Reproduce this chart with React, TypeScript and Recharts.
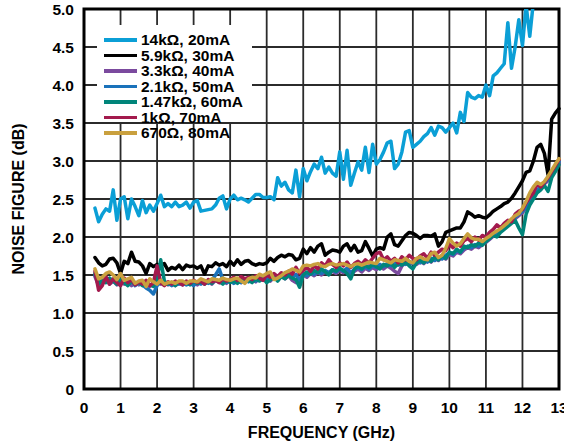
import { LineChart, Line, XAxis, YAxis, CartesianGrid, ReferenceArea } from 'recharts'

const FONT = '"Liberation Sans", Arial, Helvetica, sans-serif'

// frequency grid, GHz (0.3 .. 13.0 in 0.1 steps)
const FREQ = Array.from({ length: 128 }, (_, i) => Math.round((0.3 + i * 0.1) * 10) / 10)
const X_TICKS = [0, 1, 2, 3, 4, 5, 6, 7, 8, 9, 10, 11, 12, 13]
const Y_TICKS = [0, 0.5, 1, 1.5, 2, 2.5, 3, 3.5, 4, 4.5, 5]

// noise figure, dB
const NF_14K = [
  2.38, 2.20, 2.30, 2.37, 2.34, 2.62, 2.22, 2.50, 2.53, 2.24,
  2.50, 2.40, 2.28, 2.48, 2.32, 2.42, 2.34, 2.44, 2.55, 2.40,
  2.44, 2.40, 2.46, 2.40, 2.42, 2.46, 2.38, 2.46, 2.48, 2.34,
  2.35, 2.36, 2.37, 2.42, 2.51, 2.54, 2.37, 2.50, 2.55, 2.49,
  2.51, 2.49, 2.46, 2.51, 2.56, 2.56, 2.52, 2.52, 2.53, 2.49,
  2.78, 2.67, 2.72, 2.62, 2.58, 2.88, 2.53, 2.90, 2.74, 2.86,
  2.96, 2.90, 3.05, 2.84, 2.92, 2.84, 2.80, 3.12, 2.76, 3.14,
  2.68, 2.84, 2.99, 2.88, 3.18, 2.85, 3.22, 2.96, 3.02, 3.12,
  3.24, 3.26, 2.90, 2.96, 3.12, 3.38, 3.40, 3.18, 3.22, 3.26,
  3.32, 3.36, 3.44, 3.34, 3.46, 3.44, 3.38, 3.44, 3.50, 3.37,
  3.64, 3.52, 3.90, 3.84, 3.82, 3.86, 3.84, 4.00, 3.86, 4.12,
  4.16, 4.22, 4.28, 4.82, 4.22, 4.50, 4.86, 4.52, 5.05, 4.64,
  5.10, 5.40, null, null, null, null, null, null,
]

const NF_5K9 = [
  1.73, 1.66, 1.62, 1.64, 1.71, 1.72, 1.66, 1.52, 1.68, 1.65,
  1.80, 1.68, 1.67, 1.62, 1.52, 1.65, 1.61, 1.64, 1.62, 1.65,
  1.56, 1.60, 1.58, 1.63, 1.57, 1.63, 1.61, 1.62, 1.59, 1.62,
  1.51, 1.62, 1.61, 1.66, 1.63, 1.65, 1.61, 1.68, 1.63, 1.70,
  1.64, 1.68, 1.69, 1.65, 1.63, 1.65, 1.64, 1.66, 1.72, 1.68,
  1.73, 1.76, 1.74, 1.77, 1.76, 1.70, 1.72, 1.84, 1.78, 1.86,
  1.80, 1.88, 1.91, 1.76, 1.80, 1.83, 1.82, 1.80, 1.88, 1.91,
  1.82, 1.89, 1.80, 1.82, 1.94, 1.85, 1.75, 1.84, 1.86, 1.84,
  2.00, 2.04, 1.90, 1.88, 1.95, 2.02, 2.06, 2.05, 2.02, 1.98,
  2.02, 2.02, 2.01, 2.04, 1.88, 1.94, 2.06, 2.08, 2.10, 2.12,
  2.12, 2.20, 2.33, 2.30, 2.26, 2.28, 2.26, 2.25, 2.29, 2.34,
  2.37, 2.40, 2.44, 2.46, 2.51, 2.58, 2.66, 2.74, 2.85, 2.87,
  3.00, 3.18, 3.22, 3.10, 2.82, 3.55, 3.63, 3.69,
]

const NF_3K3 = [
  1.48, 1.36, 1.40, 1.44, 1.38, 1.42, 1.37, 1.41, 1.38, 1.42,
  1.36, 1.40, 1.37, 1.41, 1.38, 1.35, 1.39, 1.42, 1.38, 1.41,
  1.37, 1.40, 1.36, 1.39, 1.37, 1.41, 1.38, 1.40, 1.37, 1.41,
  1.39, 1.42, 1.38, 1.43, 1.40, 1.42, 1.39, 1.44, 1.41, 1.43,
  1.40, 1.45, 1.42, 1.44, 1.41, 1.46, 1.43, 1.45, 1.42, 1.47,
  1.44, 1.48, 1.45, 1.49, 1.43, 1.40, 1.46, 1.50, 1.47, 1.52,
  1.49, 1.53, 1.50, 1.54, 1.51, 1.55, 1.52, 1.56, 1.53, 1.57,
  1.50, 1.55, 1.58, 1.54, 1.59, 1.56, 1.60, 1.57, 1.61, 1.58,
  1.62, 1.59, 1.55, 1.52, 1.62, 1.66, 1.63, 1.67, 1.64, 1.68,
  1.65, 1.70, 1.67, 1.72, 1.69, 1.74, 1.71, 1.77, 1.75, 1.80,
  1.78, 1.83, 1.86, 1.84, 1.88, 1.86, 1.90, 1.93, 1.97, 2.01,
  2.05, 2.08, 2.12, 2.16, 2.20, 2.24, 2.28, 2.32, 2.38, 2.46,
  2.53, 2.60, 2.64, 2.70, 2.74, 2.82, 2.90, 2.97,
]

const NF_2K1 = [
  1.50, 1.42, 1.40, 1.45, 1.41, 1.44, 1.39, 1.43, 1.40, 1.38,
  1.43, 1.36, 1.40, 1.37, 1.33, 1.30, 1.25, 1.36, 1.41, 1.37,
  1.39, 1.36, 1.40, 1.38, 1.41, 1.37, 1.39, 1.36, 1.41, 1.38,
  1.42, 1.39, 1.43, 1.50, 1.58, 1.44, 1.40, 1.43, 1.39, 1.42,
  1.40, 1.44, 1.41, 1.45, 1.42, 1.46, 1.43, 1.47, 1.44, 1.48,
  1.45, 1.49, 1.46, 1.50, 1.47, 1.51, 1.42, 1.52, 1.49, 1.54,
  1.51, 1.55, 1.52, 1.56, 1.53, 1.57, 1.54, 1.58, 1.55, 1.59,
  1.53, 1.57, 1.60, 1.57, 1.61, 1.58, 1.62, 1.60, 1.64, 1.61,
  1.65, 1.62, 1.66, 1.63, 1.67, 1.64, 1.68, 1.65, 1.69, 1.66,
  1.70, 1.67, 1.72, 1.69, 1.74, 1.71, 1.76, 1.79, 1.77, 1.82,
  1.80, 1.85, 1.88, 1.86, 1.90, 1.88, 1.92, 1.95, 1.98, 2.03,
  2.06, 2.10, 2.14, 2.18, 2.22, 2.26, 2.30, 2.34, 2.40, 2.48,
  2.55, 2.62, 2.66, 2.72, 2.76, 2.84, 2.92, 2.99,
]

const NF_1K47 = [
  1.52, 1.38, 1.44, 1.40, 1.46, 1.42, 1.38, 1.44, 1.40, 1.36,
  1.42, 1.38, 1.40, 1.36, 1.41, 1.37, 1.35, 1.45, 1.70, 1.42,
  1.38, 1.40, 1.36, 1.41, 1.38, 1.40, 1.37, 1.42, 1.39, 1.41,
  1.38, 1.42, 1.39, 1.44, 1.41, 1.38, 1.43, 1.40, 1.42, 1.39,
  1.44, 1.41, 1.43, 1.40, 1.45, 1.42, 1.46, 1.40, 1.44, 1.47,
  1.42, 1.48, 1.45, 1.50, 1.46, 1.44, 1.34, 1.50, 1.54, 1.51,
  1.56, 1.53, 1.58, 1.54, 1.50, 1.57, 1.55, 1.59, 1.56, 1.52,
  1.45, 1.58, 1.62, 1.58, 1.63, 1.60, 1.64, 1.61, 1.58, 1.64,
  1.62, 1.66, 1.60, 1.65, 1.63, 1.67, 1.62, 1.58, 1.66, 1.70,
  1.66, 1.72, 1.68, 1.74, 1.70, 1.76, 1.72, 1.80, 1.78, 1.84,
  1.80, 1.88, 1.86, 1.90, 1.88, 1.92, 1.89, 1.94, 1.98, 2.02,
  2.00, 2.06, 2.10, 2.14, 2.18, 2.22, 2.12, 2.03, 2.30, 2.42,
  2.50, 2.58, 2.62, 2.68, 2.60, 2.78, 2.86, 2.95,
]

const NF_1K = [
  1.55, 1.30, 1.36, 1.48, 1.38, 1.45, 1.40, 1.36, 1.46, 1.40,
  1.44, 1.37, 1.41, 1.38, 1.43, 1.36, 1.40, 1.62, 1.40, 1.36,
  1.41, 1.38, 1.42, 1.40, 1.37, 1.42, 1.39, 1.43, 1.40, 1.42,
  1.38, 1.44, 1.41, 1.43, 1.40, 1.45, 1.42, 1.44, 1.47, 1.43,
  1.48, 1.45, 1.47, 1.44, 1.49, 1.46, 1.43, 1.50, 1.47, 1.52,
  1.48, 1.53, 1.50, 1.55, 1.51, 1.60, 1.52, 1.56, 1.60, 1.55,
  1.62, 1.58, 1.66, 1.62, 1.70, 1.64, 1.60, 1.66, 1.62, 1.67,
  1.60, 1.65, 1.68, 1.64, 1.70, 1.66, 1.72, 1.78, 1.80, 1.70,
  1.74, 1.68, 1.72, 1.66, 1.74, 1.70, 1.76, 1.72, 1.70, 1.75,
  1.78, 1.72, 1.80, 1.76, 1.80, 1.84, 1.82, 1.90, 1.86, 1.92,
  1.88, 1.95, 1.98, 1.94, 2.00, 1.96, 2.02, 2.00, 2.06, 2.10,
  2.16, 2.12, 2.18, 2.22, 2.20, 2.30, 2.34, 2.36, 2.45, 2.52,
  2.58, 2.70, 2.66, 2.72, 2.78, 2.86, 2.94, 3.02,
]

const NF_670 = [
  1.58, 1.45, 1.47, 1.52, 1.54, 1.50, 1.44, 1.52, 1.43, 1.45,
  1.47, 1.39, 1.42, 1.43, 1.35, 1.45, 1.41, 1.38, 1.43, 1.38,
  1.40, 1.41, 1.39, 1.42, 1.42, 1.39, 1.42, 1.42, 1.41, 1.45,
  1.43, 1.41, 1.45, 1.44, 1.43, 1.46, 1.44, 1.43, 1.45, 1.46,
  1.42, 1.39, 1.45, 1.47, 1.46, 1.51, 1.49, 1.52, 1.54, 1.44,
  1.46, 1.49, 1.53, 1.55, 1.58, 1.56, 1.54, 1.62, 1.63, 1.62,
  1.64, 1.65, 1.62, 1.61, 1.64, 1.65, 1.63, 1.64, 1.65, 1.63,
  1.61, 1.64, 1.65, 1.63, 1.65, 1.67, 1.66, 1.65, 1.72, 1.70,
  1.68, 1.66, 1.70, 1.69, 1.68, 1.72, 1.68, 1.66, 1.72, 1.74,
  1.71, 1.70, 1.78, 1.80, 1.73, 1.76, 1.85, 1.98, 1.92, 1.88,
  1.91, 1.98, 2.04, 1.99, 1.97, 1.97, 1.94, 1.98, 2.01, 2.05,
  2.08, 2.11, 2.15, 2.19, 2.24, 2.28, 2.31, 2.38, 2.47, 2.58,
  2.66, 2.72, 2.69, 2.73, 2.80, 2.88, 2.96, 3.03,
]

const SERIES = [
  { key: 'r14k', name: '14kΩ, 20mA', color: '#0b9fd6', values: NF_14K },
  { key: 'r5k9', name: '5.9kΩ, 30mA', color: '#000000', values: NF_5K9 },
  { key: 'r3k3', name: '3.3kΩ, 40mA', color: '#7b4a9e', values: NF_3K3 },
  { key: 'r2k1', name: '2.1kΩ, 50mA', color: '#1a72ba', values: NF_2K1 },
  { key: 'r1k47', name: '1.47kΩ, 60mA', color: '#00857a', values: NF_1K47 },
  { key: 'r1k', name: '1kΩ, 70mA', color: '#a31a4d', values: NF_1K },
  { key: 'r670', name: '670Ω, 80mA', color: '#c9a03e', values: NF_670 },
]

const data = FREQ.map((f, i) => {
  const row: Record<string, number | null> = { f }
  SERIES.forEach((s) => {
    row[s.key] = s.values[i] ?? null
  })
  return row
})

const tickStyle = { fill: '#000', fontSize: 15.5, fontWeight: 700, fontFamily: FONT }
const titleStyle = { fill: '#000', fontSize: 16, fontWeight: 700, fontFamily: FONT }

export default function App() {
  return (
    <div
      style={{
        position: 'absolute',
        left: 0,
        top: 0,
        width: 564,
        height: 444,
        background: '#fff',
        fontFamily: FONT,
      }}
    >
      <LineChart width={564} height={444} data={data} margin={{ top: 9, right: 5, bottom: 0, left: 0 }}>
        <CartesianGrid stroke="#2b2b2b" strokeWidth={1.8} />
        <XAxis
          dataKey="f"
          type="number"
          domain={[0, 13]}
          ticks={X_TICKS}
          interval={0}
          height={55}
          axisLine={false}
          tickLine={false}
          tickSize={6}
          tickMargin={7}
          tick={tickStyle}
          label={{ value: 'FREQUENCY (GHz)', position: 'insideBottom', offset: 6, style: titleStyle }}
        />
        <YAxis
          type="number"
          domain={[0, 5]}
          ticks={Y_TICKS}
          interval={0}
          allowDataOverflow
          width={84}
          axisLine={false}
          tickLine={false}
          tickSize={6}
          tickMargin={4}
          tick={tickStyle}
          tickFormatter={(v: number) => (v === 0 ? '0' : v.toFixed(1))}
          label={{
            value: 'NOISE FIGURE (dB)',
            angle: -90,
            position: 'insideLeft',
            offset: 18,
            style: { ...titleStyle, textAnchor: 'middle' },
          }}
        />
        {SERIES.map((s) => (
          <Line
            key={s.key}
            type="linear"
            dataKey={s.key}
            name={s.name}
            stroke={s.color}
            strokeWidth={3.5}
            strokeLinejoin="round"
            strokeLinecap="round"
            dot={false}
            activeDot={false}
            isAnimationActive={false}
          />
        ))}
        <ReferenceArea x1={0} x2={13} y1={0} y2={5} fill="none" stroke="#000" strokeWidth={3} />
      </LineChart>

      {/* legend box */}
      <div style={{ position: 'absolute', left: 97, top: 25, width: 155, height: 97, background: '#fff' }} />
      {SERIES.map((s, i) => (
        <div
          key={s.key}
          style={{
            position: 'absolute',
            left: 104,
            top: 40 + i * 15.5 - 8,
            height: 16,
            display: 'flex',
            alignItems: 'center',
            fontSize: 15.5,
            fontWeight: 700,
            color: '#000',
            whiteSpace: 'nowrap',
            lineHeight: '16px',
          }}
        >
          <span style={{ display: 'inline-block', width: 33, height: 3.5, background: s.color, marginRight: 4 }} />
          {s.name}
        </div>
      ))}
    </div>
  )
}
